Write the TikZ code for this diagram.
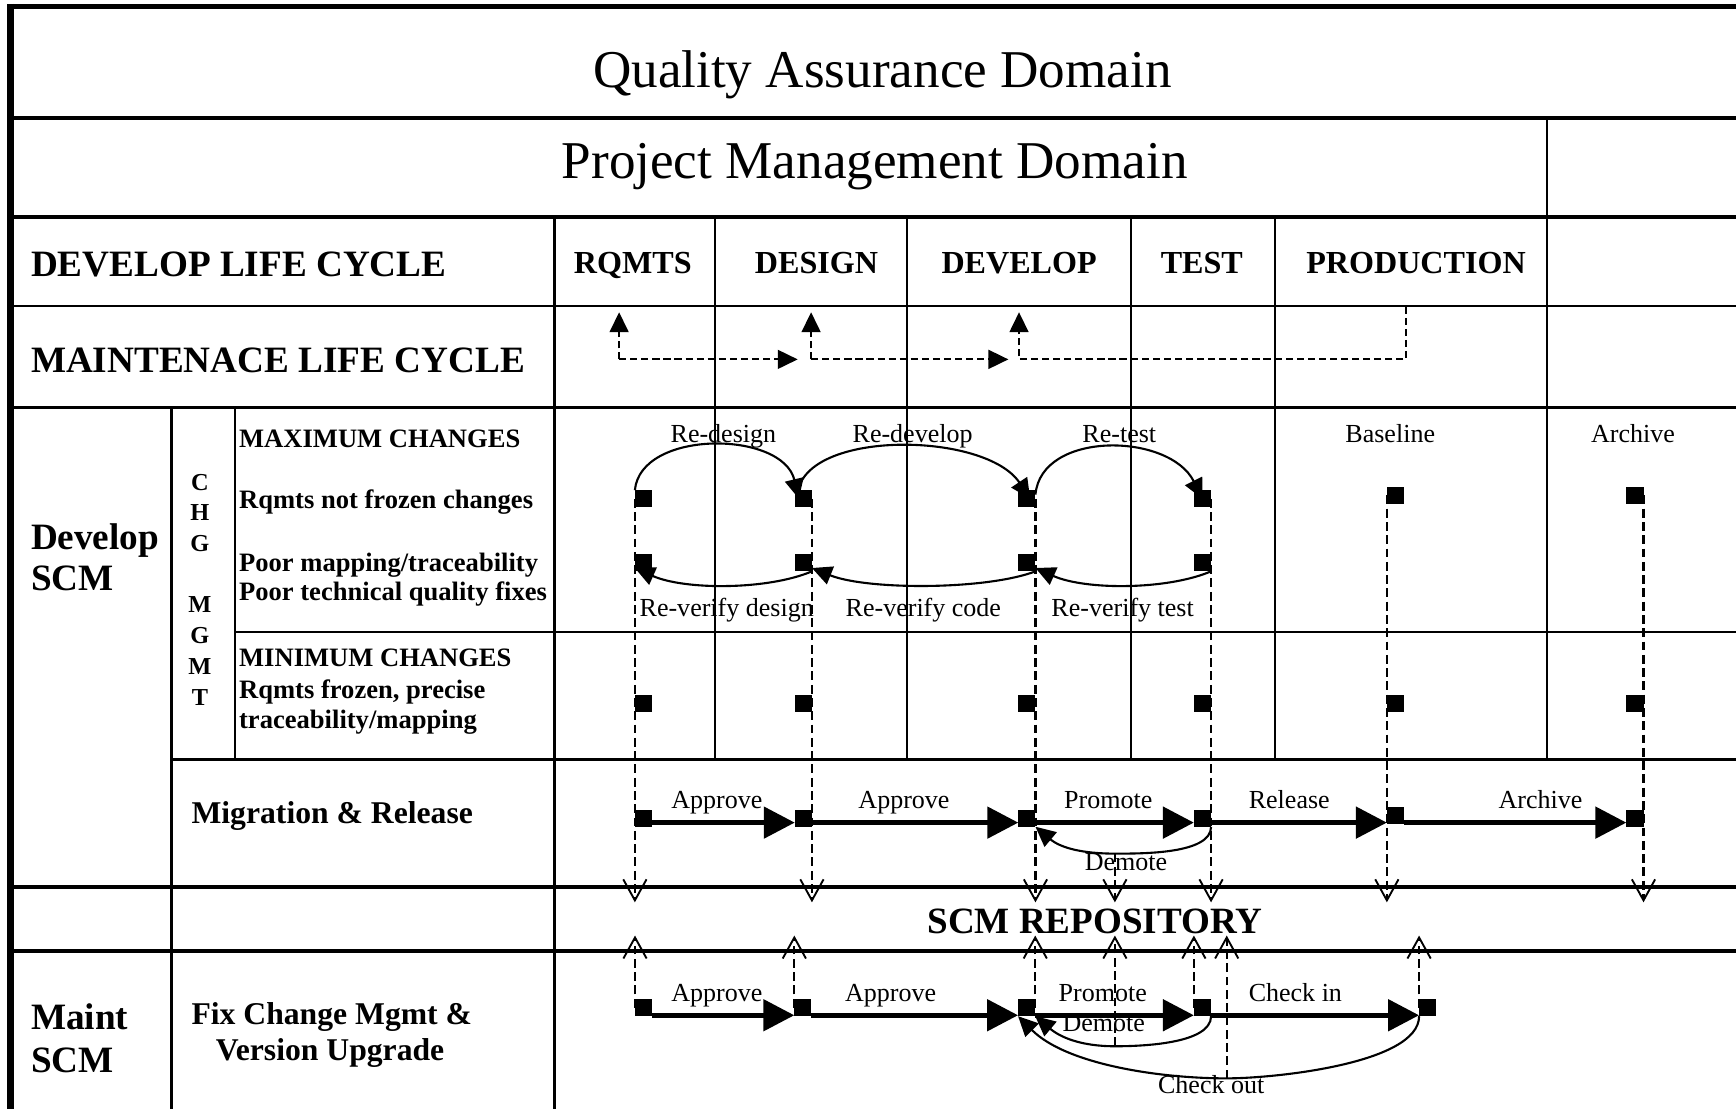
\documentclass[tikz,border=0pt]{standalone}
\usepackage{fontspec}
\setmainfont{Liberation Serif}
\usetikzlibrary{arrows.meta}
\begin{document}
\begin{tikzpicture}[x=1pt,y=-1pt,
  every node/.style={inner sep=0pt, outer sep=0pt},
  sq/.style={fill=black, minimum size=15.5pt, inner sep=0pt, outer sep=0pt},
  gridline/.style={line width=1.9pt},
  thickline/.style={line width=3.6pt},
  title/.style={anchor=base, font=\fontsize{48}{56}\selectfont},
  hd/.style={anchor=base west, font=\fontsize{33.6}{38}\selectfont\bfseries},
  colhd/.style={anchor=base, font=\fontsize{29}{34}\selectfont\bfseries},
  rowtxt/.style={anchor=base west, font=\fontsize{24}{28}\selectfont\bfseries},
  chg/.style={anchor=base, font=\fontsize{22}{26}\selectfont\bfseries},
  midhd/.style={anchor=base west, font=\fontsize{28.6}{33}\selectfont\bfseries},
  repo/.style={anchor=base, font=\fontsize{33.5}{38}\selectfont\bfseries},
  lbl/.style={anchor=base, font=\fontsize{23.5}{28}\selectfont},
  bigarrow/.style={line width=4.6pt, -{Triangle[length=28pt,width=28pt]}},
  curvearrow/.style={line width=1.9pt, -{Triangle[length=18pt,width=17pt]}},
  dashline/.style={line width=2pt, dash pattern=on 8pt off 4pt},
  downtip/.style={-{Straight Barb[length=19pt,width=21pt,line width=1.7pt]}},
  mlc/.style={line width=1.9pt, dash pattern=on 6.5pt off 3.5pt},
  mlctip/.style={-{Triangle[length=18pt,width=17pt]}}
]
\useasboundingbox[fill=white] (0,0) rectangle (1568,1001);

% ---------- grid ----------
\draw[line width=5pt] (9,6) -- (1570,6);
\draw[line width=6pt] (9.3,3.5) -- (9.3,1003);
\draw[thickline] (9,107) -- (1570,107);
\draw[thickline] (9,196) -- (1570,196);
\draw[gridline] (9,276.5) -- (1570,276.5);
\draw[line width=2.8pt] (9,368) -- (1570,368);
\draw[gridline] (212,570.5) -- (1570,570.5);
\draw[line width=2.2pt] (155,686) -- (1570,686);
\draw[thickline] (9,801) -- (1570,801);
\draw[thickline] (9,859) -- (1570,859);
\draw[gridline] (1397,107) -- (1397,686);
\foreach \x in {646,819,1021.5,1152} \draw[gridline] (\x,196) -- (\x,686);
\draw[line width=2.6pt] (501,196) -- (501,1003);
\draw[line width=2.6pt] (155,368) -- (155,1003);
\draw[gridline] (212,368) -- (212,686);

% ---------- titles and headings ----------
\node[title] (qad) at (797,79) {Quality Assurance Domain};
\node[title] (pmd) at (790,161) {Project Management Domain};
\node[hd] (dlc) at (28,250) {DEVELOP LIFE CYCLE};
\node[hd] (mlc) at (28,336) {MAINTENACE LIFE CYCLE};
\node[colhd] (c1) at (571.5,247) {RQMTS};
\node[colhd] (c2) at (737.5,247) {DESIGN};
\node[colhd] (c3) at (920.5,247) {DEVELOP};
\node[colhd] (c4) at (1085.5,247) {TEST};
\node[colhd] (c5) at (1279,247) {PRODUCTION};

\node[hd] (dscm1) at (28,496) {Develop};
\node[hd] (dscm2) at (28,533) {SCM};
\node[hd] (mscm1) at (28,929.5) {Maint};
\node[hd] (mscm2) at (28,968.4) {SCM};

\node[chg] (g1) at (180.6,443) {C};
\node[chg] (g2) at (180.6,470.5) {H};
\node[chg] (g3) at (180.6,498) {G};
\node[chg] (g4) at (180.6,553.5) {M};
\node[chg] (g5) at (180.6,581.5) {G};
\node[chg] (g6) at (180.6,609) {M};
\node[chg] (g7) at (180.6,637) {T};

\node[rowtxt] (r1) at (216,404) {MAXIMUM CHANGES};
\node[rowtxt] (r2) at (216,459.5) {Rqmts not frozen changes};
\node[rowtxt] (r3) at (216,515.8) {Poor mapping/traceability};
\node[rowtxt] (r4) at (216,542.8) {Poor technical quality fixes};
\node[rowtxt] (r5) at (216,601.7) {MINIMUM CHANGES};
\node[rowtxt] (r6) at (216,631) {Rqmts frozen, precise};
\node[rowtxt] (r7) at (216,657.6) {traceability/mapping};

\node[midhd] (mr) at (173,743.5) {Migration \& Release};
\node[midhd] (fx1) at (173,925.3) {Fix Change Mgmt \&};
\node[midhd] (fx2) at (195,958) {Version Upgrade};
\node[repo] (rep) at (989,843) {SCM REPOSITORY};

% ---------- maintenance life cycle arrows ----------
\coordinate (m1) at (559.2,324.6); \coordinate (m1t) at (559.2,282); \coordinate (m1r) at (720.5,324.6);
\coordinate (m2) at (732.6,324.6); \coordinate (m2t) at (732.6,282); \coordinate (m2r) at (910.8,324.6);
\coordinate (m3) at (920.4,324.6); \coordinate (m3t) at (920.4,282);
\coordinate (m4) at (1270,324.6); \coordinate (m4t) at (1270,277);
\draw[mlc,mlctip] (m1) -- (m1t);
\draw[mlc,mlctip] (m1) -- (m1r);
\draw[mlc,mlctip] (m2) -- (m2t);
\draw[mlc,mlctip] (m2) -- (m2r);
\draw[mlc,mlctip] (m4t) -- (m4) -- (m3) -- (m3t);

% ---------- squares ----------
\foreach \n/\x in {A/581.2,B/725.6,C/927.5,D/1086.1}{
  \node[sq] (\n1) at (\x,450.5) {};
  \node[sq] (\n2) at (\x,508.3) {};
  \node[sq] (\n3) at (\x,635.5) {};
  \node[sq] (\n M) at (\x,739) {};
}
\node[sq] (E1) at (1260.4,447.5) {};
\node[sq] (F1) at (1476.7,447.5) {};
\node[sq] (E3) at (1260.4,635.5) {};
\node[sq] (F3) at (1476.7,635.5) {};
\node[sq] (EM) at (1260.4,736.2) {};
\node[sq] (FM) at (1476.7,739) {};
\node[sq] (AT) at (581.3,910.1) {};
\node[sq] (BT) at (725.2,910.1) {};
\node[sq] (CT) at (927.3,910.1) {};
\node[sq] (DT) at (1086.1,910.1) {};
\node[sq] (ET) at (1289.5,910.1) {};

\coordinate (rd) at (0,815);
\coordinate (ru) at (0,845);
\coordinate (mig) at (0,743);
\coordinate (mnt) at (0,917);

% ---------- dashed verticals to repository ----------
\draw[dashline,downtip] (A1.west) -- (A1.west |- rd);
\draw[dashline,downtip] (B1.east) -- (B1.east |- rd);
\draw[dashline,downtip] (C1.east) -- (C1.east |- rd);
\draw[dashline,downtip] (D1.east) -- (D1.east |- rd);
\draw[dashline,downtip] (E1.west) -- (E1.west |- rd);
\draw[dashline,downtip] (F1.east) -- (F1.east |- rd);

\draw[dashline,downtip] (AT.west) -- (AT.west |- ru);
\draw[dashline,downtip] (BT.west) -- (BT.west |- ru);
\draw[dashline,downtip] (CT.east) -- (CT.east |- ru);
\draw[dashline,downtip] (DT.west) -- (DT.west |- ru);
\draw[dashline,downtip] (ET.west) -- (ET.west |- ru);

% ---------- re-work curves ----------
\draw[curvearrow] (A1.north west) .. controls +(5,-55) and +(-15,-62) .. ([xshift=-4pt]B1.center);
\draw[curvearrow] ([xshift=3pt]B1.north west) .. controls +(12,-55) and +(-40,-60) .. ([xshift=3pt]C1.center);
\draw[curvearrow] ([yshift=-4pt]C1.north east) .. controls +(5,-58) and +(-30,-60) .. (D1.center);

\draw[curvearrow] (B2.south east) .. controls +(-40,17) and +(45,20) .. ([yshift=3pt]A2.south west);
\draw[curvearrow] (C2.south east) .. controls +(-45,17) and +(50,20) .. ([yshift=3pt]B2.south east);
\draw[curvearrow] (D2.south east) .. controls +(-40,17) and +(45,20) .. ([yshift=3pt]C2.south east);

\node[lbl] (l1) at (653.4,400) {Re-design};
\node[lbl] (l2) at (824.3,400) {Re-develop};
\node[lbl] (l3) at (1011,400) {Re-test};
\node[lbl] (l4) at (1255.7,400) {Baseline};
\node[lbl] (l5) at (1475,400) {Archive};
\node[lbl] (l6) at (656.4,557) {Re-verify design};
\node[lbl] (l7) at (834,557) {Re-verify code};
\node[lbl] (l8) at (1014,557) {Re-verify test};

% ---------- migration & release ----------
\draw[bigarrow] (AM.east |- mig) -- (BM.west |- mig);
\draw[bigarrow] (BM.east |- mig) -- (CM.west |- mig);
\draw[bigarrow] (CM.east |- mig) -- (DM.west |- mig);
\draw[bigarrow] (DM.east |- mig) -- (EM.west |- mig);
\draw[bigarrow] (EM.east |- mig) -- (FM.west |- mig);

\coordinate (dm) at (1007,771);
\draw[curvearrow] (DM.south east) to[out=-90,in=0,looseness=0.7] (dm) to[out=180,in=-40] (CM.south east);
\draw[dashline,downtip] (dm) -- (dm |- rd);

\node[lbl] (a1) at (647.5,730) {Approve};
\node[lbl] (a2) at (816.5,730) {Approve};
\node[lbl] (a3) at (1001,730) {Promote};
\node[lbl] (a4) at (1164.5,730) {Release};
\node[lbl] (a5) at (1391.5,730) {Archive};
\node[lbl] (a6) at (1017,786.5) {Demote};

% ---------- maintenance SCM ----------
\draw[bigarrow] (AT.east |- mnt) -- (BT.west |- mnt);
\draw[bigarrow] (BT.east |- mnt) -- (CT.west |- mnt);
\draw[bigarrow] (CT.east |- mnt) -- (DT.west |- mnt);
\draw[bigarrow] (DT.east |- mnt) -- (ET.west |- mnt);

\coordinate (dt) at (1007,945);
\coordinate (co) at (1108,974);
\draw[curvearrow] (DT.south east) to[out=-90,in=0,looseness=0.7] (dt) to[out=180,in=-40] (CT.south east);
\draw[curvearrow] (ET.south west) to[out=-90,in=0,looseness=0.6] (co) to[out=180,in=-45,looseness=0.8] (CT.south west);
\draw[dashline,downtip] (dt) -- (dt |- ru);
\draw[dashline,downtip] (co) -- (co |- ru);

\node[lbl] (b1) at (647.5,905) {Approve};
\node[lbl] (b2) at (804.5,905) {Approve};
\node[lbl] (b3) at (996,905) {Promote};
\node[lbl] (b4) at (997,932) {Demote};
\node[lbl] (b5) at (1170,905) {Check in};
\node[lbl] (b6) at (1094,988) {Check out};
\end{tikzpicture}
\end{document}
